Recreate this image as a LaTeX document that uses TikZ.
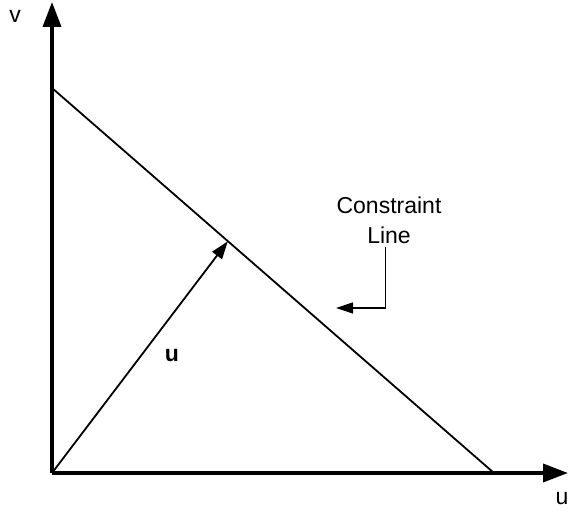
\documentclass[tikz,border=0pt]{standalone}
\usepackage{fontspec}
\setmainfont{Liberation Sans}
\usetikzlibrary{arrows.meta, calc}
\definecolor{darkline}{HTML}{000000}
\tikzset{
  axis/.style={line width=3.6pt, draw=darkline, -{Triangle[length=25pt, width=18pt]}},
  limit/.style={line width=1.8pt, draw=darkline},
  vect/.style={line width=1.8pt, draw=darkline, -{Triangle[length=18pt, width=12pt]}},
  pointer/.style={line width=1.3pt, draw=darkline, -{Triangle[length=17pt, width=11pt]}},
  lab/.style={font=\fontsize{23}{30}\selectfont, inner sep=0pt, align=center},
}

\begin{document}
\begin{tikzpicture}[x=1pt, y=1pt]
\useasboundingbox (0,0) rectangle (568,513);

% Axes
\coordinate (origin) at (52,40);
\coordinate (vtop)   at (52,511);
\coordinate (uend)   at (568,40);
\draw[axis] (origin) -- (vtop);
\draw[axis] (origin) -- (uend);
\node[lab] (vlab) at (15,497) {v};
\node[lab] (ulab) at (562,14) {u};

% Constraint line
\coordinate (ca) at (52,425);
\coordinate (cb) at (494,40);
\draw[limit] (ca) -- (cb);

% Vector u
\coordinate (utip) at ($(ca)!0.398!(cb)$);
\draw[vect] (origin) -- (utip);
\node[lab, font=\fontsize{23}{30}\selectfont\bfseries] (bold) at (172,157) {u};

% Note
\node[lab] (note) at (389,293) {Constraint\\Line};
\coordinate (notetip) at (336,205);
\draw[pointer] ($(note.south)+(-3.5,-3)$) |- (notetip);

\end{tikzpicture}
\end{document}
